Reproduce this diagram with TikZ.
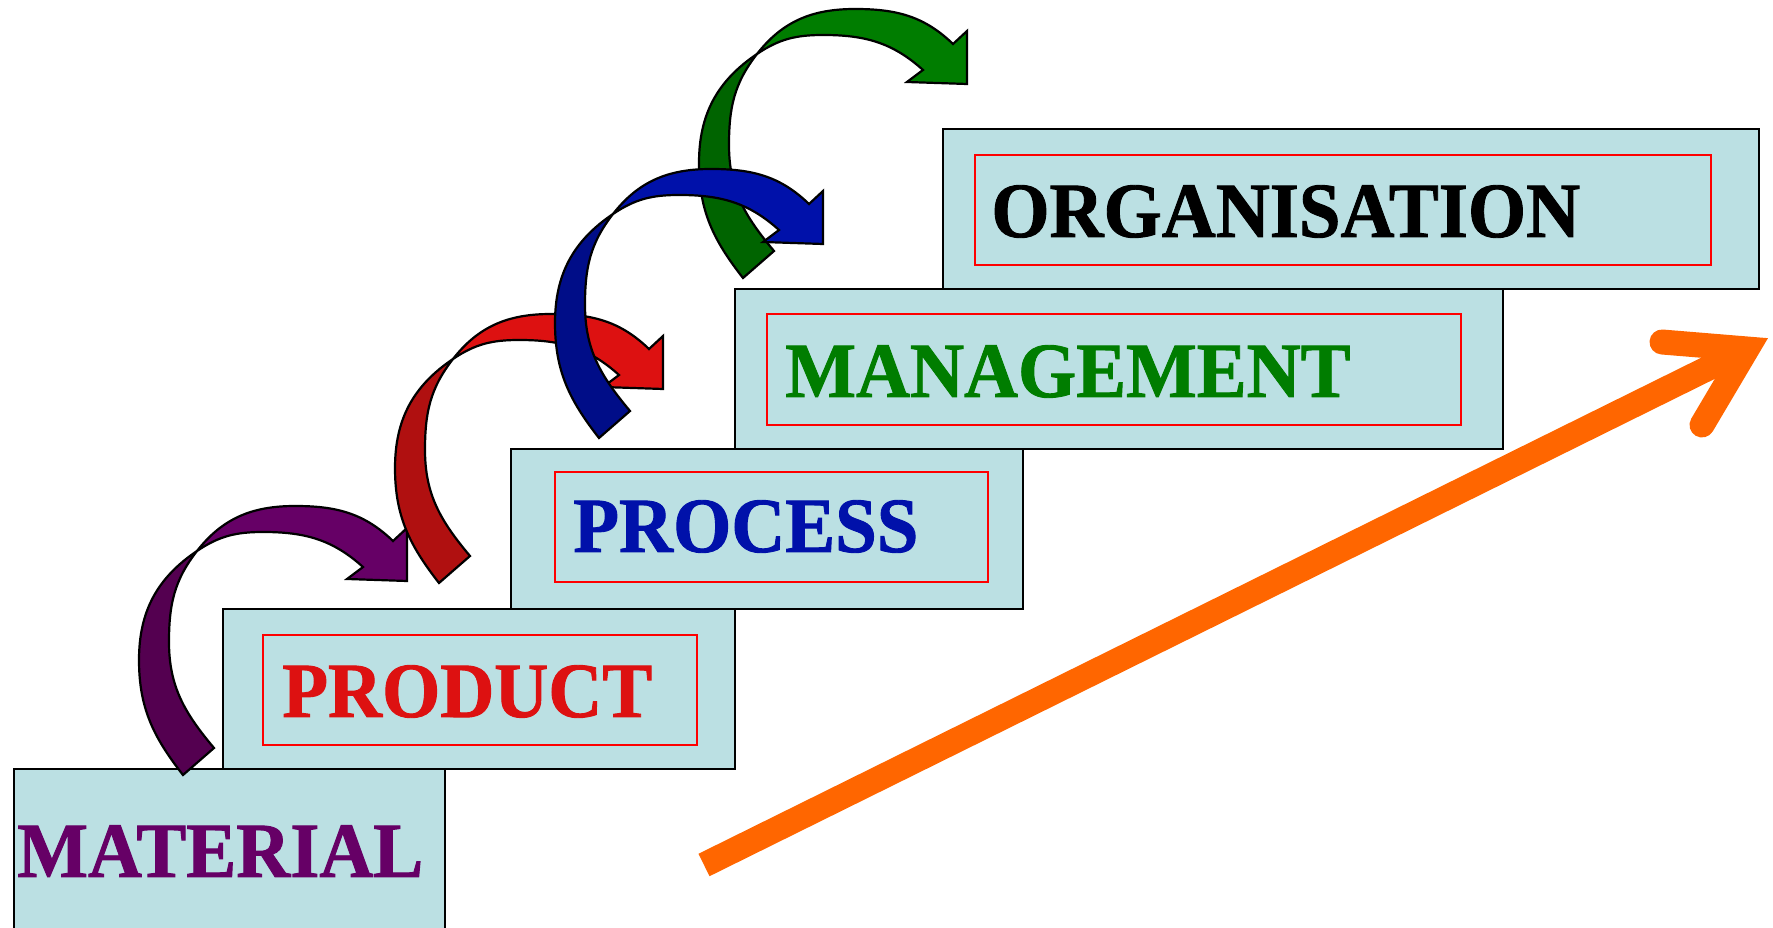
\documentclass[tikz,border=0pt]{standalone}
\usepackage{fontspec}
\setmainfont{Liberation Serif}
\newfontfamily\stepfont{Liberation Serif Bold}[FakeBold=1.2]
\definecolor{boxfill}{RGB}{187,224,227}
\definecolor{matpurple}{RGB}{102,0,102}
\definecolor{matdark}{RGB}{84,0,80}
\definecolor{prodred}{RGB}{221,17,17}
\definecolor{proddark}{RGB}{176,16,16}
\definecolor{procblue}{RGB}{0,17,170}
\definecolor{procdark}{RGB}{0,13,136}
\definecolor{mangreen}{RGB}{0,125,0}
\definecolor{mandark}{RGB}{0,100,0}
\definecolor{arrorange}{RGB}{255,102,0}
\newcommand\stairarrow[3]{%
\begin{scope}[shift={(#1)}]
 \path[arrowline, fill=#2] (183,152) to[out=128,in=-90] (139,267) to[out=90,in=214] (197,376)
   to[out=232,in=90] (169,285) to[out=-90,in=130] (214,179) -- cycle;
 \path[arrowline, fill=#3] (197,376) to[out=52,in=180] (295,421) to[out=0,in=136] (393,386)
   -- (407,399) -- (407,346) -- (347,348) -- (363,360) to[out=138,in=0] (263,395)
   to[out=180,in=34] (197,376) -- cycle;
\end{scope}}
\begin{document}
\begin{tikzpicture}[x=0.5pt,y=0.5pt,
 stepbox/.style={draw=black, line width=1.4pt, fill=boxfill},
 redframe/.style={draw=red, line width=1.1pt},
 lbl/.style={anchor=base west, inner sep=0pt, font=\fontsize{37.4pt}{40pt}\stepfont},
 arrowline/.style={draw=black, line width=1.1pt, line join=miter},
 bigarrow/.style={draw=arrorange, line width=12.5pt}]
\useasboundingbox (0,0) rectangle (1773,927);
\clip (0,0) rectangle (1773,927);
% steps
\draw[stepbox] (14,-10) rectangle (445,158);
\draw[stepbox] (223,158) rectangle (735,318);
\draw[redframe] (263,182) rectangle (697,292);
\draw[stepbox] (511,318) rectangle (1023,478);
\draw[redframe] (555,345) rectangle (988,455);
\draw[stepbox] (735,478) rectangle (1503,638);
\draw[redframe] (767,502) rectangle (1461,613);
\draw[stepbox] (943,638) rectangle (1759,798);
\draw[redframe] (975,662) rectangle (1711,772);
% labels
\node[lbl, text=matpurple] (material) at (17,50) {\scalebox{1}[1.045]{MATERIAL}};
\node[lbl, text=prodred] (product) at (282,210) {\scalebox{1}[1.045]{PRODUCT}};
\node[lbl, text=procblue] (process) at (573,375) {\scalebox{1}[1.045]{PROCESS}};
\node[lbl, text=mangreen] (management) at (785,530) {\scalebox{1}[1.045]{MANAGEMENT}};
\node[lbl, text=black] (organisation) at (991,690) {\scalebox{1}[1.045]{ORGANISATION}};
% curved arrows
\stairarrow{0,0}{matdark}{matpurple}
\stairarrow{256,192}{proddark}{prodred}
\stairarrow{560,497}{mandark}{mangreen}
\stairarrow{416,337}{procdark}{procblue}
% orange arrow
\coordinate (otail) at (704,62);
\coordinate (otip) at (1747,578);
\coordinate (obarbu) at (1662,585);
\coordinate (obarbl) at (1702,502);
\draw[bigarrow, line cap=butt] (otail) -- (otip);
\draw[bigarrow, line cap=round, line join=miter] (obarbu) -- (otip) -- (obarbl);
\end{tikzpicture}
\end{document}
